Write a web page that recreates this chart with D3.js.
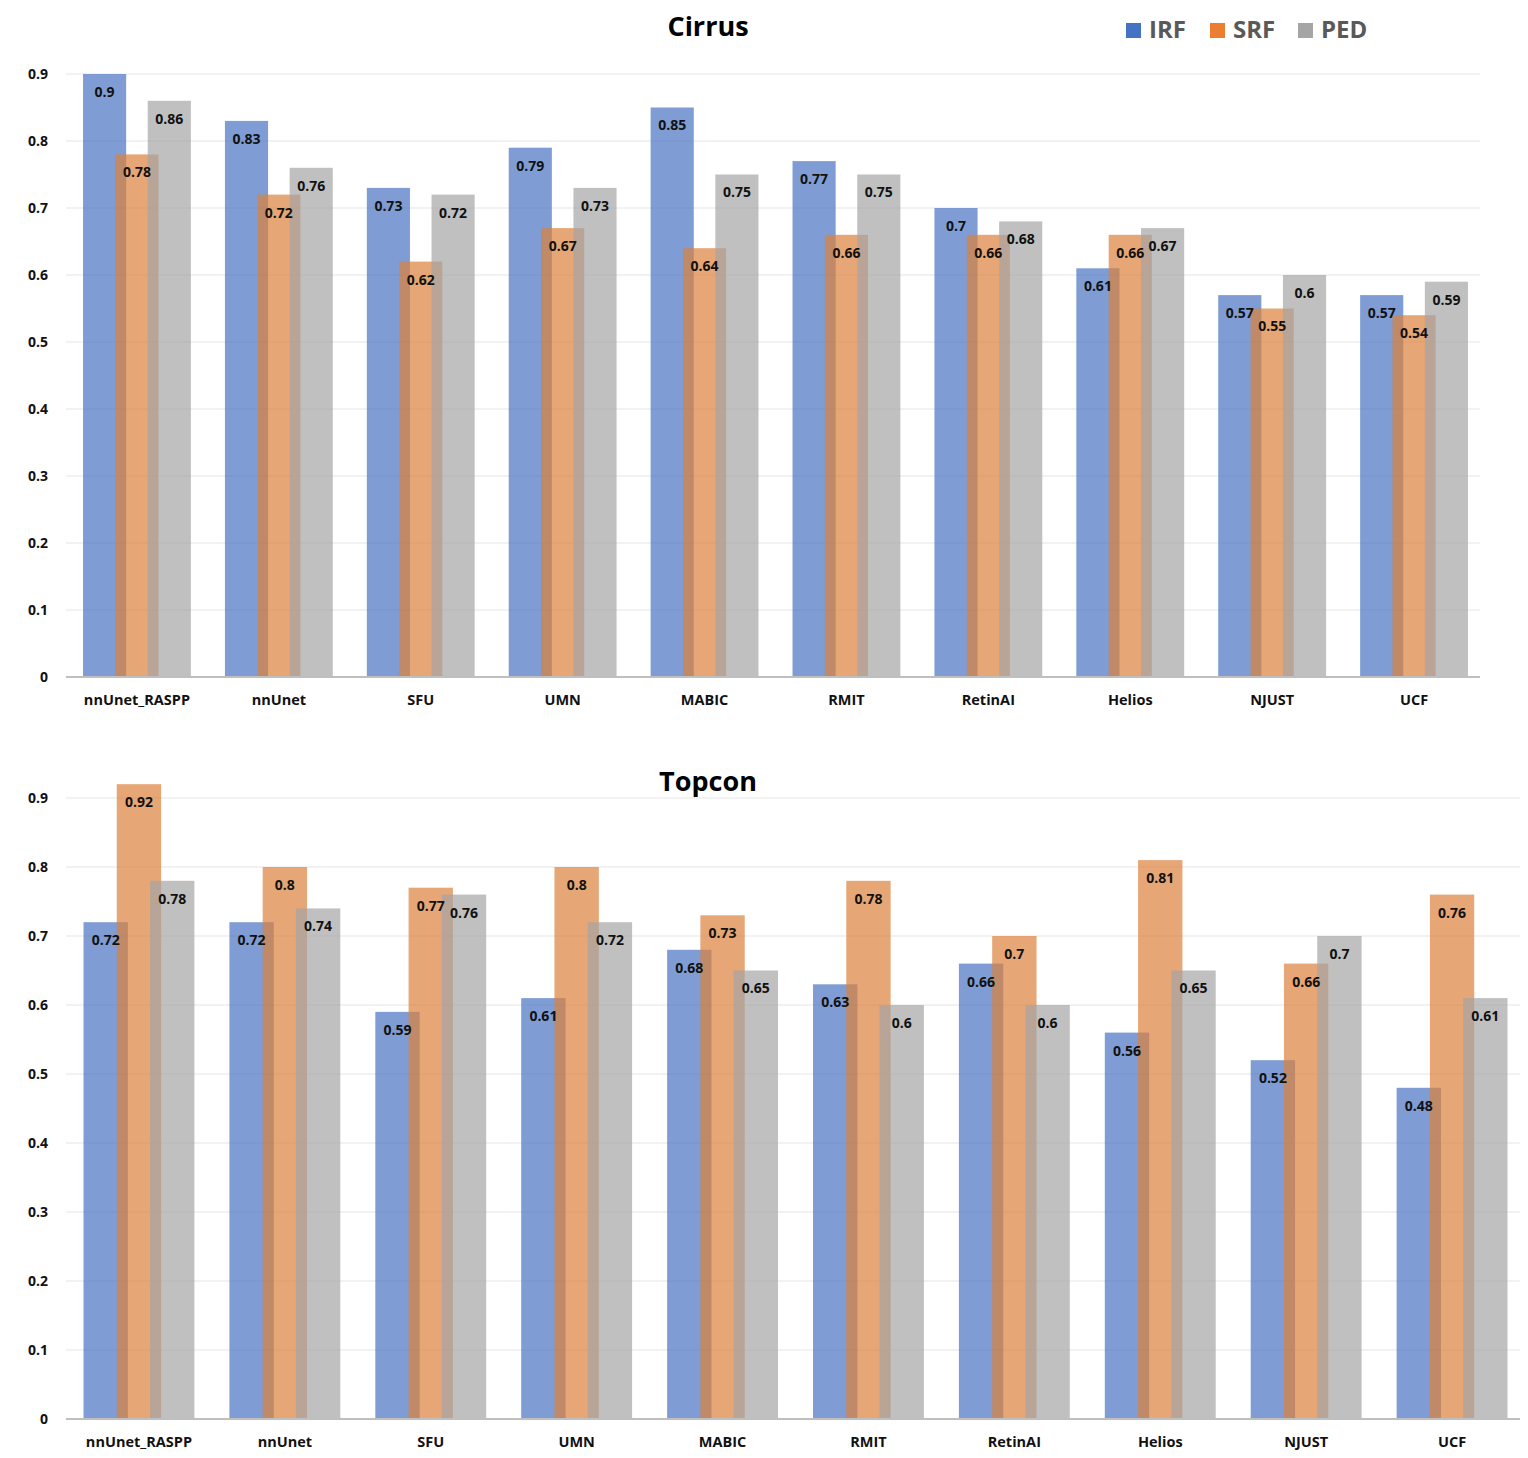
<!DOCTYPE html>
<html>
<head>
<meta charset="utf-8">
<script src="https://cdn.jsdelivr.net/npm/d3@7"></script>
<style>
  body { margin: 0; background: #fff; }
  text { font-family: "Open Sans", "Noto Sans", sans-serif; }
</style>
</head>
<body>
<div id="chart"></div>
<script>
//data
const methods = ["nnUnet_RASPP", "nnUnet", "SFU", "UMN", "MABIC", "RMIT", "RetinAI", "Helios", "NJUST", "UCF"];
const seriesNames = ["IRF", "SRF", "PED"];
const yTicks = [0, 0.1, 0.2, 0.3, 0.4, 0.5, 0.6, 0.7, 0.8, 0.9];

const cirrusIRF = [0.9, 0.83, 0.73, 0.79, 0.85, 0.77, 0.7, 0.61, 0.57, 0.57];
const cirrusSRF = [0.78, 0.72, 0.62, 0.67, 0.64, 0.66, 0.66, 0.66, 0.55, 0.54];
const cirrusPED = [0.86, 0.76, 0.72, 0.73, 0.75, 0.75, 0.68, 0.67, 0.6, 0.59];

const topconIRF = [0.72, 0.72, 0.59, 0.61, 0.68, 0.63, 0.66, 0.56, 0.52, 0.48];
const topconSRF = [0.92, 0.8, 0.77, 0.8, 0.73, 0.78, 0.7, 0.81, 0.66, 0.76];
const topconPED = [0.78, 0.74, 0.76, 0.72, 0.65, 0.6, 0.6, 0.65, 0.7, 0.61];

//legend colours and (slightly duller) bar colours
const colors = ["#4472C4", "#ED7D31", "#A5A5A5"];
const barColors = ["#4874C2", "#DB803B", "#A5A5A5"];

const svg = d3.select("#chart").append("svg")
  .attr("width", 1528)
  .attr("height", 1458);

//function to draw one panel
const drawPanel = (title, values, left, right, bandRight, top, bottom, titleY) => {
  const x = d3.scaleBand().domain(methods).range([left, bandRight])
    .paddingInner(0.24).paddingOuter(0.12);
  const y = d3.scaleLinear().domain([0, 0.9]).range([bottom, top]);
  const g = svg.append("g");

  //gridlines
  g.selectAll(".grid").data(yTicks.slice(1)).enter().append("line")
    .attr("x1", left).attr("x2", right)
    .attr("y1", d => y(d)).attr("y2", d => y(d))
    .attr("stroke", "#eeeeee").attr("stroke-width", 1.5);

  //y tick labels
  g.selectAll(".ytick").data(yTicks).enter().append("text")
    .attr("x", 48).attr("y", d => y(d))
    .attr("dy", "0.35em")
    .attr("text-anchor", "end")
    .attr("font-size", 14).attr("font-weight", 700)
    .attr("fill", "#111")
    .text(d => d === 0 ? "0" : d3.format(".1f")(d));

  const bw = x.bandwidth();
  const barW = bw * 0.4;
  const step = bw * 0.3;

  //bars
  values.forEach((vals, s) => {
    g.selectAll(".bar" + s).data(vals).enter().append("rect")
      .attr("x", (d, i) => x(methods[i]) + s * step)
      .attr("y", d => y(d))
      .attr("width", barW)
      .attr("height", d => bottom - y(d))
      .attr("fill", barColors[s])
      .attr("fill-opacity", 0.7);
  });

  //value labels
  values.forEach((vals, s) => {
    g.selectAll(".lab" + s).data(vals).enter().append("text")
      .attr("x", (d, i) => x(methods[i]) + s * step + barW / 2)
      .attr("y", d => y(d) + 18)
      .attr("dy", "0.35em")
      .attr("text-anchor", "middle")
      .attr("font-size", 14).attr("font-weight", 700)
      .attr("fill", "#111")
      .text(d => String(d));
  });

  //axis line
  g.append("line")
    .attr("x1", left).attr("x2", right)
    .attr("y1", bottom).attr("y2", bottom)
    .attr("stroke", "#bfbfbf").attr("stroke-width", 2);

  //category labels
  g.selectAll(".cat").data(methods).enter().append("text")
    .attr("x", d => x(d) + bw / 2)
    .attr("y", bottom + 23)
    .attr("dy", "0.35em")
    .attr("text-anchor", "middle")
    .attr("font-size", 14.5).attr("font-weight", 700)
    .attr("fill", "#111")
    .text(d => d);

  //title
  g.append("text")
    .attr("x", 708).attr("y", titleY)
    .attr("dy", "0.35em")
    .attr("text-anchor", "middle")
    .attr("font-size", 27).attr("font-weight", 700)
    .attr("fill", "#000")
    .text(title);
};

drawPanel("Cirrus", [cirrusIRF, cirrusSRF, cirrusPED], 66, 1480, 1485, 74, 677, 27);
drawPanel("Topcon", [topconIRF, topconSRF, topconPED], 66, 1520, 1525, 798, 1419, 782);

//legend
const legendX = [1126, 1210, 1298];
const legend = svg.append("g");
seriesNames.forEach((name, i) => {
  legend.append("rect")
    .attr("x", legendX[i]).attr("y", 23)
    .attr("width", 15).attr("height", 15)
    .attr("fill", colors[i]);
  legend.append("text")
    .attr("x", legendX[i] + 23).attr("y", 30)
    .attr("dy", "0.35em")
    .attr("font-size", 24).attr("font-weight", 700)
    .attr("fill", "#595959")
    .text(name);
});
</script>
</body>
</html>
